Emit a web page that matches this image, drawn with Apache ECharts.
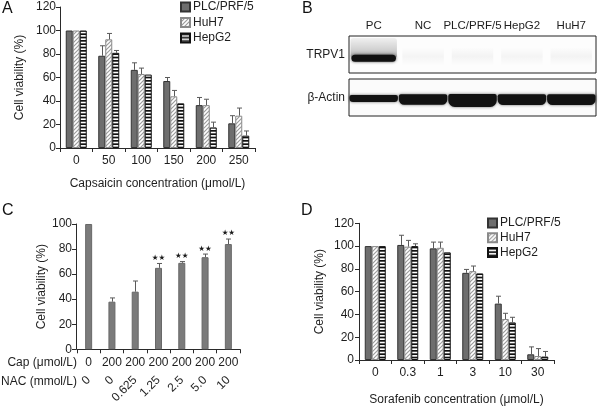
<!DOCTYPE html>
<html>
<head>
<meta charset="utf-8">
<script src="https://cdn.jsdelivr.net/npm/echarts/dist/echarts.min.js"></script>
<style>html,body{margin:0;padding:0;background:#fff}#c{width:600px;height:407px}</style>
</head>
<body>
<div id="c"></div>
<script>
// ---------- DATA ----------
// Panel A: capsaicin
const catsA = ['0', '50', '100', '150', '200', '250'];
const plcA = [100, 78.5, 66.5, 57, 36.5, 21];
const plcAErr = [100, 87, 72.5, 60, 43, 27.5];
const huhA = [100, 92.5, 63, 44, 36.5, 27.5];
const huhAErr = [100, 97.5, 68, 49, 41.5, 34];
const hepA = [100, 81, 62.5, 38, 17.5, 10.5];
const hepAErr = [100, 83, 62.5, 38, 22, 14.5];
const ticksAD = [0, 20, 40, 60, 80, 100, 120];

// Panel B: western blot
const lanesB = ['PC', 'NC', 'PLC/PRF/5', 'HepG2', 'HuH7'];
const trpv1Signal = [1, 0.035, 0.04, 0.035, 0.04];
const actinSignal = [0.55, 0.8, 1, 0.82, 0.82];

// Panel C: capsaicin + NAC
const capC = ['0', '200', '200', '200', '200', '200', '200'];
const nacC = ['0', '0', '0.625', '1.25', '2.5', '5.0', '10'];
const viaC = [100, 38, 46, 65, 69, 73.5, 84];
const viaCErr = [100, 41, 54.5, 68.5, 70, 76, 88];
const sigC = ['', '', '', '★★', '★★', '★★', '★★'];

// Panel D: sorafenib
const catsD = ['0', '0.3', '1', '3', '10', '30'];
const plcD = [100, 101, 98, 76.5, 49.5, 5];
const plcDErr = [100, 109.5, 103.5, 79.5, 56, 11.5];
const huhD = [100, 99.5, 98.5, 78, 36, 3.5];
const huhDErr = [100, 105, 103.5, 82.5, 41, 10];
const hepD = [100, 100, 94.5, 76, 33, 3];
const hepDErr = [100, 102, 94.5, 76, 37.5, 7.5];

// ---------- STYLE ----------
const font = '"Liberation Sans", Arial, Helvetica, sans-serif';
const txt = '#1e1e1e';
const axc = '#2a2a2a';
const errc = '#5a5a5a';

function hatchCanvas() {
  const c = document.createElement('canvas'); c.width = 4; c.height = 4;
  const g = c.getContext('2d');
  g.fillStyle = '#ffffff'; g.fillRect(0, 0, 4, 4);
  g.strokeStyle = '#9c9c9c'; g.lineWidth = 1.2;
  g.beginPath();
  g.moveTo(0, 4); g.lineTo(4, 0);
  g.moveTo(-1, 1); g.lineTo(1, -1);
  g.moveTo(3, 5); g.lineTo(5, 3);
  g.stroke();
  return c;
}
function stripeCanvas() {
  const c = document.createElement('canvas'); c.width = 4; c.height = 10;
  const g = c.getContext('2d');
  g.fillStyle = '#ffffff'; g.fillRect(0, 0, 4, 10);
  g.fillStyle = '#111111';
  g.fillRect(0, 0, 4, 1.7);
  g.fillRect(0, 3.33, 4, 1.7);
  g.fillRect(0, 6.67, 4, 1.7);
  return c;
}
const hatchPat = { image: hatchCanvas(), repeat: 'repeat' };
const stripePat = { image: stripeCanvas(), repeat: 'repeat' };

const seriesStyles = {
  'PLC/PRF/5': { color: '#6e6e6e', borderColor: '#333', borderWidth: 1 },
  'HuH7': { color: hatchPat, borderColor: '#8a8a8a', borderWidth: 1 },
  'HepG2': { color: stripePat, borderColor: '#111', borderWidth: 1 }
};

function barSeries(name, xi, yi, vals) {
  return { type: 'bar', name, xAxisIndex: xi, yAxisIndex: yi, data: vals,
    barWidth: 7, barGap: '0%', itemStyle: seriesStyles[name], silent: true, animation: false };
}
function errSeries(xi, yi, vals, tops, off) {
  return {
    type: 'custom', xAxisIndex: xi, yAxisIndex: yi, silent: true, animation: false, z: 5,
    data: vals.map((v, i) => [i, v, tops[i]]),
    renderItem(params, api) {
      const p0 = api.coord([api.value(0), api.value(1)]);
      const p1 = api.coord([api.value(0), api.value(2)]);
      if (p1[1] >= p0[1] - 0.5) return null;
      const x = Math.round(p0[0] + off) + 0.5;
      return { type: 'group', children: [
        { type: 'line', shape: { x1: x, y1: p0[1], x2: x, y2: p1[1] }, style: { stroke: errc, lineWidth: 1 } },
        { type: 'line', shape: { x1: x - 2.5, y1: p1[1], x2: x + 2.5, y2: p1[1] }, style: { stroke: errc, lineWidth: 1 } }
      ]};
    }
  };
}
function valueY(gridIndex, ticks, name, nameGap, margin) {
  return { type: 'value', gridIndex, min: ticks[0], max: ticks[ticks.length - 1],
    interval: ticks[1] - ticks[0], name, nameLocation: 'middle', nameGap,
    nameTextStyle: { fontSize: 12, color: txt, fontFamily: font },
    axisLine: { show: true, lineStyle: { color: axc } },
    axisTick: { show: true, length: 4, lineStyle: { color: axc } },
    axisLabel: { fontSize: 12, color: txt, margin, fontFamily: font },
    splitLine: { show: false } };
}
function catX(gridIndex, cats, name, nameGap) {
  return { type: 'category', gridIndex, data: cats, name, nameLocation: 'middle', nameGap,
    nameTextStyle: { fontSize: 12, color: txt, fontFamily: font },
    axisLine: { show: true, lineStyle: { color: axc } },
    axisTick: { show: true, length: 4, lineStyle: { color: axc } },
    axisLabel: { fontSize: 12, color: txt, margin: 7, fontFamily: font, interval: 0 },
    splitLine: { show: false } };
}
function legend(left, top, gap) {
  return { orient: 'vertical', left, top, itemWidth: 9, itemHeight: 9, itemGap: gap, padding: 0,
    icon: 'rect', selectedMode: false, data: ['PLC/PRF/5', 'HuH7', 'HepG2'],
    textStyle: { fontSize: 12, color: txt, fontFamily: font, padding: [0, 0, 0, -2] } };
}
function blotY(gridIndex, label) {
  return { type: 'category', gridIndex, data: [label],
    axisLine: { show: false }, axisTick: { show: false },
    axisLabel: { fontSize: 12, color: txt, fontFamily: font, margin: 4 } };
}
function blotX(gridIndex, showLabels) {
  return { type: 'category', gridIndex, data: lanesB, position: 'top',
    axisLine: { show: false }, axisTick: { show: false },
    axisLabel: { show: showLabels, fontSize: 11.5, color: txt, fontFamily: font, margin: 4, interval: 0 } };
}
function vGrad(stops) {
  return { type: 'linear', x: 0, y: 0, x2: 0, y2: 1, colorStops: stops };
}

// ---------- OPTION ----------
const chart = echarts.init(document.getElementById('c'), null, { renderer: 'canvas' });
const option = {
  backgroundColor: '#ffffff',
  animation: false,
  textStyle: { fontFamily: font },
  grid: [
    { left: 60, top: 7, width: 195, height: 141 },                  // A
    { left: 349, top: 36, width: 247, height: 37, show: true, borderColor: '#222', borderWidth: 1, backgroundColor: '#fdfdfd' }, // B top
    { left: 349, top: 79, width: 247, height: 37, show: true, borderColor: '#222', borderWidth: 1, backgroundColor: '#fbfbfb' }, // B bottom
    { left: 77, top: 224, width: 163, height: 125.3 },               // C
    { left: 359, top: 223.3, width: 195, height: 141 }               // D
  ],
  xAxis: [
    catX(0, catsA, 'Capsaicin concentration (μmol/L)', 30),
    blotX(1, true),
    blotX(2, false),
    catX(3, capC, '', 0),
    { type: 'category', gridIndex: 3, data: nacC, position: 'bottom', offset: 0,
      axisLine: { show: false }, axisTick: { show: false },
      axisLabel: { fontSize: 12, color: txt, fontFamily: font, margin: 29, rotate: 45, interval: 0 } },
    catX(4, catsD, 'Sorafenib concentration (μmol/L)', 34)
  ],
  yAxis: [
    valueY(0, ticksAD, 'Cell viability (%)', 34, 4),
    blotY(1, 'TRPV1'),
    blotY(2, 'β-Actin'),
    Object.assign(valueY(3, [0, 20, 40, 60, 80, 100], 'Cell viability (%)', 28, 4), { offset: 1 }),
    valueY(4, ticksAD, 'Cell viability (%)', 33, 5)
  ],
  legend: [legend(180, 1, 3.5), legend(487, 217, 2.7)],
  graphic: [
    { type: 'text', left: 2, top: 1, style: { text: 'A', fontSize: 16, fill: '#111', fontFamily: font } },
    { type: 'text', left: 302, top: 1, style: { text: 'B', fontSize: 16, fill: '#111', fontFamily: font } },
    { type: 'text', left: 2, top: 203, style: { text: 'C', fontSize: 16, fill: '#111', fontFamily: font } },
    { type: 'text', left: 301, top: 203, style: { text: 'D', fontSize: 16, fill: '#111', fontFamily: font } },
    { type: 'text', x: 77, y: 363, style: { text: 'Cap (μmol/L)', fontSize: 12, fill: txt, fontFamily: font, textAlign: 'right', textVerticalAlign: 'middle' } },
    { type: 'text', x: 77, y: 382, style: { text: 'NAC (mmol/L)', fontSize: 12, fill: txt, fontFamily: font, textAlign: 'right', textVerticalAlign: 'middle' } }
  ],
  series: [
    // A
    barSeries('PLC/PRF/5', 0, 0, plcA),
    barSeries('HuH7', 0, 0, huhA),
    barSeries('HepG2', 0, 0, hepA),
    errSeries(0, 0, plcA, plcAErr, -7),
    errSeries(0, 0, huhA, huhAErr, 0),
    errSeries(0, 0, hepA, hepAErr, 7),
    // B top: TRPV1
    {
      type: 'custom', xAxisIndex: 1, yAxisIndex: 1, silent: true, animation: false,
      data: trpv1Signal.map((s, i) => [i, 0, s]),
      renderItem(params, api) {
        const cs = params.coordSys;
        const x = api.coord([api.value(0), 0])[0];
        const w = api.size([1, 0])[0];
        const s = api.value(2);
        if (s > 0.5) {
          return { type: 'group', children: [
            { type: 'rect', shape: { x: x - w * 0.47, y: cs.y + 2, width: w * 0.94, height: cs.height * 0.55, r: 3 },
              style: { fill: vGrad([{ offset: 0, color: 'rgba(0,0,0,0.05)' }, { offset: 0.6, color: 'rgba(0,0,0,0.18)' }, { offset: 1, color: 'rgba(0,0,0,0.35)' }]) } },
            { type: 'rect', shape: { x: x - w * 0.45, y: cs.y + cs.height * 0.6 - 3.5, width: w * 0.9, height: 7, r: 3.5 },
              style: { fill: '#111', shadowBlur: 3, shadowColor: 'rgba(0,0,0,0.7)' } }
          ]};
        }
        const a = s;
        return { type: 'rect', shape: { x: x - w * 0.42, y: cs.y + cs.height * 0.3, width: w * 0.84, height: cs.height * 0.5 },
          style: { fill: vGrad([{ offset: 0, color: 'rgba(0,0,0,0)' }, { offset: 0.5, color: 'rgba(0,0,0,' + a + ')' }, { offset: 1, color: 'rgba(0,0,0,0)' }]) } };
      }
    },
    // B bottom: beta-actin
    {
      type: 'custom', xAxisIndex: 2, yAxisIndex: 2, silent: true, animation: false,
      data: actinSignal.map((s, i) => [i, 0, s]),
      renderItem(params, api) {
        const cs = params.coordSys;
        const x = api.coord([api.value(0), 0])[0];
        const w = api.size([1, 0])[0];
        const s = api.value(2);
        const t = 13 * s;
        const cy = cs.y + cs.height * (0.46 + 0.12 * s);
        return { type: 'rect', shape: { x: x - w * 0.49, y: cy - t / 2, width: w * 0.98, height: t, r: [2, 2, t / 2, t / 2] },
          style: { fill: '#121212', shadowBlur: 3, shadowColor: 'rgba(0,0,0,0.6)' } };
      }
    },
    // C
    { type: 'bar', xAxisIndex: 3, yAxisIndex: 3, data: viaC, barWidth: 7, silent: true, animation: false,
      itemStyle: { color: '#7b7b7b', borderColor: '#686868', borderWidth: 1 } },
    errSeries(3, 3, viaC, viaCErr, 0),
    {
      type: 'custom', xAxisIndex: 3, yAxisIndex: 3, silent: true, animation: false, z: 6,
      data: viaCErr.map((v, i) => [i, v, i]),
      renderItem(params, api) {
        const idx = api.value(2);
        const label = sigC[idx];
        if (!label) return null;
        const p = api.coord([api.value(0), api.value(1)]);
        return { type: 'text', x: p[0], y: p[1] - 1.5,
          style: { text: label, fontSize: 7.5, fill: '#1a1a1a', textAlign: 'center', textVerticalAlign: 'bottom', fontFamily: 'DejaVu Sans' } };
      }
    },
    // D
    barSeries('PLC/PRF/5', 5, 4, plcD),
    barSeries('HuH7', 5, 4, huhD),
    barSeries('HepG2', 5, 4, hepD),
    errSeries(5, 4, plcD, plcDErr, -7),
    errSeries(5, 4, huhD, huhDErr, 0),
    errSeries(5, 4, hepD, hepDErr, 7)
  ]
};
chart.setOption(option);
</script>
</body>
</html>
